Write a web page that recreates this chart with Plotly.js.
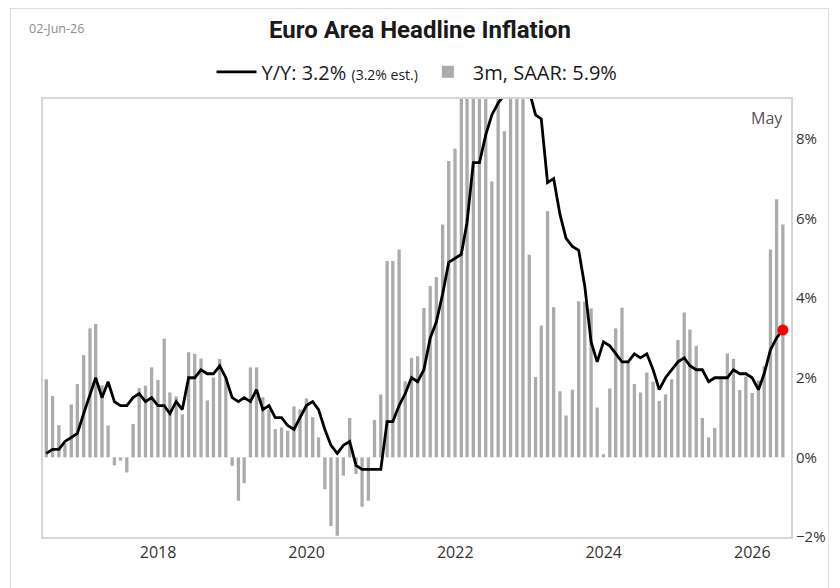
<!DOCTYPE html>
<html>
<head>
<meta charset="utf-8">
<script src="https://cdn.plot.ly/plotly-3.0.1.min.js"></script>
<style>
  html, body { margin: 0; padding: 0; background: #fff; }
  #wrap { position: relative; width: 840px; height: 588px; }
  #chart { width: 840px; height: 588px; }
  #frame { position: absolute; left: 10px; top: 8px; width: 819px; height: 590px;
           border: 1px solid #dcdcdc; pointer-events: none; box-sizing: border-box; }
</style>
</head>
<body>
<div id="wrap"><div id="chart"></div><div id="frame"></div></div>
<script>
// Monthly data, June 2016 .. May 2026
const startYear = 2016, startMonth = 6; // June 2016
const yoy = [
  0.1, 0.2, 0.2, 0.4, 0.5, 0.6, 1.1,
  1.6, 2.0, 1.5, 1.9, 1.4, 1.3, 1.3, 1.5, 1.6, 1.4, 1.5, 1.3,
  1.3, 1.1, 1.4, 1.2, 2.0, 2.0, 2.2, 2.1, 2.1, 2.3, 2.0, 1.5,
  1.4, 1.5, 1.4, 1.7, 1.2, 1.3, 1.0, 1.0, 0.8, 0.7, 1.0, 1.3,
  1.4, 1.2, 0.7, 0.3, 0.1, 0.3, 0.4, -0.2, -0.3, -0.3, -0.3, -0.3,
  0.9, 0.9, 1.3, 1.6, 2.0, 1.9, 2.2, 3.0, 3.4, 4.1, 4.9, 5.0,
  5.1, 5.9, 7.4, 7.4, 8.1, 8.6, 8.9, 9.1, 9.9, 10.6, 10.1, 9.2,
  8.6, 8.5, 6.9, 7.0, 6.1, 5.5, 5.3, 5.2, 4.3, 2.9, 2.4, 2.9,
  2.8, 2.6, 2.4, 2.4, 2.6, 2.5, 2.6, 2.2, 1.7, 2.0, 2.2, 2.4,
  2.5, 2.3, 2.2, 2.2, 1.9, 2.0, 2.0, 2.0, 2.2, 2.1, 2.1, 2.0,
  1.7, 2.1, 2.7, 3.0, 3.2
];
const saar = [
  1.96, 1.54, 0.81, 0.35, 1.33, 1.84, 2.57,
  3.24, 3.35, 1.81, 0.80, -0.20, -0.08, -0.38, 0.84, 1.74, 1.80, 2.26, 1.94,
  2.98, 1.63, 1.53, 1.08, 2.64, 2.60, 2.48, 1.43, 2.00, 2.47, 2.00, -0.21,
  -1.09, -0.65, 2.26, 2.26, 1.51, 1.20, 0.71, 0.75, 0.67, 1.28, 1.21, 1.48,
  1.01, 0.50, -0.80, -1.72, -1.97, -0.46, 0.99, -0.42, -1.24, -1.09, 0.94, 1.58,
  4.93, 4.93, 5.22, 1.91, 2.50, 2.54, 3.75, 4.30, 4.53, 5.85, 7.44, 7.75,
  10.5, 12.0, 14.0, 12.0, 10.0, 6.93, 9.6, 8.19, 10.5, 11.0, 9.6, 5.09,
  2.02, 3.31, 6.18, 3.77, 1.66, 1.05, 1.70, 3.92, 3.91, 3.74, 1.25, 0.08,
  1.73, 3.24, 3.76, 2.40, 1.84, 1.63, 2.13, 1.90, 1.42, 1.58, 1.96, 2.95,
  3.64, 3.21, 2.80, 0.99, 0.50, 0.74, 2.01, 2.61, 2.47, 1.69, 2.03, 1.62,
  1.93, 2.29, 5.22, 6.48, 5.85
];
const yearTicks = ['2018', '2020', '2022', '2024', '2026'];
const yTicks = [-2, 0, 2, 4, 6, 8];

// month-end dates for each observation
function pad(n) { return (n < 10 ? '0' : '') + n; }
const months = [];
for (let i = 0; i < saar.length; i++) {
  const m0 = startMonth - 1 + i;
  const y = startYear + Math.floor(m0 / 12);
  const m = (m0 % 12) + 1;
  const last = new Date(Date.UTC(y, m, 0)).getUTCDate();
  months.push(y + '-' + pad(m) + '-' + pad(last));
}
const lastIdx = yoy.length - 1;

const traces = [
  {
    type: 'scatter', mode: 'lines', x: months, y: yoy,
    name: 'Y/Y: 3.2% <span style="font-size:14px">(3.2% est.)</span>',
    line: { color: '#000000', width: 2.8 },
    hoverinfo: 'x+y'
  },
  {
    type: 'bar', x: months, y: saar,
    name: '3m, SAAR: 5.9%',
    marker: { color: '#ababab' },
    hoverinfo: 'x+y'
  },
  {
    type: 'scatter', mode: 'markers', x: [months[lastIdx]], y: [yoy[lastIdx]],
    marker: { color: '#ff0000', size: 11 }, showlegend: false, hoverinfo: 'x+y'
  }
];

const layout = {
  width: 840, height: 588,
  paper_bgcolor: '#ffffff', plot_bgcolor: '#ffffff',
  margin: { l: 43, r: 49, t: 99, b: 51 },
  bargap: 0.42,
  showlegend: true,
  title: {
    text: 'Euro Area Headline Inflation',
    font: { family: 'Roboto, sans-serif', size: 24, color: '#1a1a1a', weight: 700 },
    x: 0.5, xanchor: 'center', y: 0.949, yanchor: 'middle'
  },
  legend: {
    orientation: 'h', x: 0.5, xanchor: 'center', y: 1.062, yanchor: 'middle',
    font: { family: 'Open Sans, sans-serif', size: 20, color: '#1a1a1a' },
    itemwidth: 40, bgcolor: 'rgba(0,0,0,0)'
  },
  xaxis: {
    type: 'date',
    range: ['2016-06-14', '2026-07-10'],
    tickvals: yearTicks.map(function (y) { return y + '-01-01'; }),
    ticktext: yearTicks,
    tickfont: { family: 'Open Sans, sans-serif', size: 16, color: '#333333' },
    showgrid: false, zeroline: false,
    showline: true, mirror: true, linecolor: '#d6d6d6', linewidth: 2,
    ticks: ''
  },
  yaxis: {
    side: 'right',
    range: [-2, 9],
    tickvals: yTicks,
    ticktext: yTicks.map(function (v) { return (v < 0 ? '\u2212' + Math.abs(v) : v) + '%'; }),
    tickfont: { family: 'Open Sans, sans-serif', size: 15, color: '#333333' },
    showgrid: false, zeroline: false,
    showline: true, mirror: true, linecolor: '#d6d6d6', linewidth: 2,
    ticks: ''
  },
  annotations: [
    {
      text: '02-Jun-26', xref: 'paper', yref: 'paper',
      x: -0.021, y: 1.162, xanchor: 'left', yanchor: 'middle', showarrow: false,
      font: { family: 'Open Sans, sans-serif', size: 12.5, color: '#8a8a8a' }
    },
    {
      text: 'May', xref: 'paper', yref: 'paper',
      x: 0.968, y: 0.957, xanchor: 'center', yanchor: 'middle', showarrow: false,
      font: { family: 'Open Sans, sans-serif', size: 16, color: '#555555' }
    }
  ]
};

Plotly.newPlot('chart', traces, layout, { displayModeBar: false, staticPlot: true });
</script>
</body>
</html>
